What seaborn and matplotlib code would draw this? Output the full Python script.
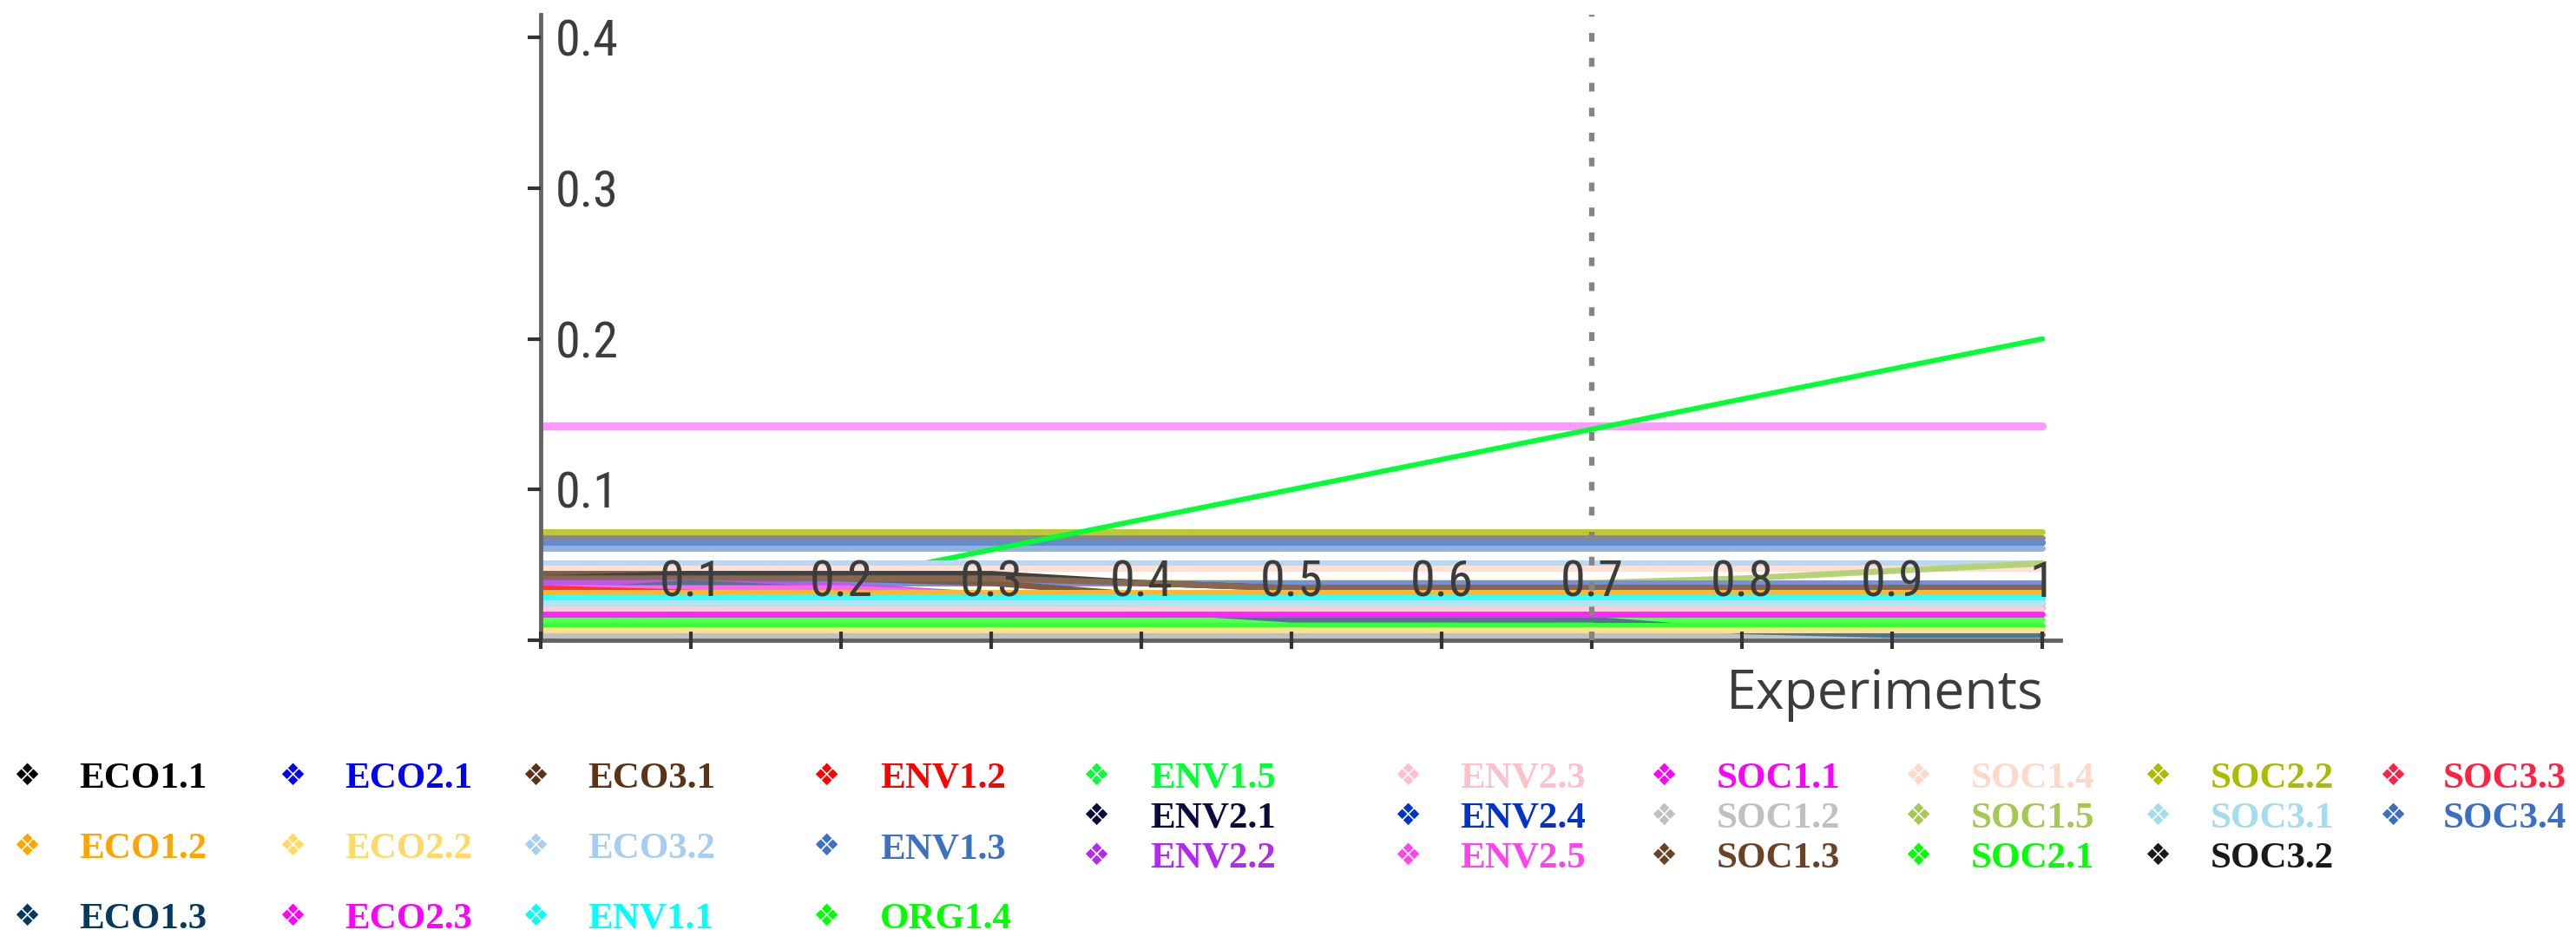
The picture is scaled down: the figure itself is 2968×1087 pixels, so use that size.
import matplotlib
matplotlib.use("Agg")
import matplotlib.pyplot as plt
import matplotlib.colors as mcolors
import seaborn as sns

# experiments on the x axis and the highlighted experiment
x_exp = [0.0, 0.1, 0.2, 0.3, 0.4, 0.5, 0.6, 0.7, 0.8, 0.9, 1.0]
marker_x = 0.7

eco1_1 = [0.041, 0.044, 0.044, 0.044, 0.038, 0.0345, 0.0345, 0.0345, 0.0345, 0.0345, 0.0345]
eco1_2 = [0.0315, 0.0315, 0.0315, 0.0315, 0.0315, 0.0315, 0.0315, 0.0315, 0.0315, 0.0315, 0.0315]
eco1_3 = [0.0315, 0.038, 0.033, 0.027, 0.020, 0.0137, 0.0137, 0.0137, 0.006, 0.0035, 0.0035]
eco2_1 = [0.0247, 0.0247, 0.0247, 0.0247, 0.0247, 0.0247, 0.0247, 0.0247, 0.0247, 0.0247, 0.0247]
eco2_2 = [0.007, 0.007, 0.007, 0.007, 0.007, 0.007, 0.007, 0.007, 0.007, 0.007, 0.007]
eco2_3 = [0.017, 0.017, 0.017, 0.017, 0.017, 0.017, 0.017, 0.017, 0.017, 0.017, 0.017]
eco3_1 = [0.044, 0.044, 0.041, 0.038, 0.030, 0.025, 0.021, 0.021, 0.021, 0.021, 0.021]
eco3_2 = [0.051, 0.051, 0.051, 0.051, 0.051, 0.051, 0.051, 0.051, 0.051, 0.051, 0.051]
env1_1 = [0.028, 0.028, 0.028, 0.028, 0.028, 0.028, 0.028, 0.028, 0.028, 0.028, 0.028]
env1_2 = [0.0345, 0.0315, 0.028, 0.028, 0.028, 0.028, 0.028, 0.028, 0.028, 0.028, 0.028]
env1_3 = [0.061, 0.061, 0.061, 0.061, 0.061, 0.061, 0.061, 0.061, 0.061, 0.061, 0.061]
org1_4 = [0.0137, 0.0137, 0.0137, 0.0137, 0.0137, 0.0137, 0.0137, 0.0137, 0.0137, 0.0137, 0.0137]
env1_5 = [0.0, 0.02, 0.04, 0.06, 0.08, 0.10, 0.12, 0.14, 0.16, 0.18, 0.20]
env2_1 = [0.068, 0.068, 0.068, 0.068, 0.068, 0.068, 0.068, 0.068, 0.068, 0.068, 0.068]
env2_2 = [0.038, 0.038, 0.036, 0.030, 0.022, 0.0137, 0.0137, 0.008, 0.007, 0.007, 0.007]
env2_3 = [0.021, 0.021, 0.021, 0.021, 0.021, 0.021, 0.021, 0.021, 0.021, 0.021, 0.021]
env2_4 = [0.038, 0.038, 0.038, 0.038, 0.038, 0.038, 0.038, 0.038, 0.038, 0.038, 0.038]
env2_5 = [0.0345, 0.0345, 0.0345, 0.030, 0.0247, 0.021, 0.021, 0.021, 0.021, 0.021, 0.021]
soc1_1 = [0.142, 0.142, 0.142, 0.142, 0.142, 0.142, 0.142, 0.142, 0.142, 0.142, 0.142]
soc1_2 = [0.0035, 0.0035, 0.0035, 0.0035, 0.0035, 0.0035, 0.0035, 0.0035, 0.0035, 0.0035, 0.0035]
soc1_3 = [0.041, 0.041, 0.041, 0.041, 0.038, 0.0345, 0.0345, 0.0345, 0.0345, 0.0345, 0.0345]
soc1_4 = [0.048, 0.048, 0.048, 0.048, 0.048, 0.048, 0.048, 0.048, 0.048, 0.048, 0.048]
soc1_5 = [0.038, 0.038, 0.038, 0.038, 0.038, 0.038, 0.038, 0.038, 0.041, 0.046, 0.051]
soc2_1 = [0.010, 0.010, 0.010, 0.010, 0.010, 0.010, 0.010, 0.010, 0.010, 0.010, 0.010]
soc2_2 = [0.072, 0.072, 0.072, 0.072, 0.072, 0.072, 0.072, 0.072, 0.072, 0.072, 0.072]
soc3_1 = [0.0247, 0.0247, 0.0247, 0.0247, 0.0247, 0.0247, 0.0247, 0.0247, 0.0247, 0.0247, 0.0247]
soc3_2 = [0.065, 0.065, 0.065, 0.065, 0.065, 0.065, 0.065, 0.065, 0.065, 0.065, 0.065]
soc3_3 = [0.028, 0.028, 0.028, 0.028, 0.028, 0.028, 0.028, 0.028, 0.028, 0.028, 0.028]
soc3_4 = [0.065, 0.065, 0.065, 0.065, 0.065, 0.065, 0.065, 0.065, 0.065, 0.065, 0.065]

# legend order (column by column, three per column)
names = ["ECO1.1", "ECO1.2", "ECO1.3", "ECO2.1", "ECO2.2", "ECO2.3",
         "ECO3.1", "ECO3.2", "ENV1.1", "ENV1.2", "ENV1.3", "ORG1.4",
         "ENV1.5", "ENV2.1", "ENV2.2", "ENV2.3", "ENV2.4", "ENV2.5",
         "SOC1.1", "SOC1.2", "SOC1.3", "SOC1.4", "SOC1.5", "SOC2.1",
         "SOC2.2", "SOC3.1", "SOC3.2", "SOC3.3", "SOC3.4"]

x_tick_labels = ["", "0.1", "0.2", "0.3", "0.4", "0.5", "0.6", "0.7", "0.8", "0.9", "1"]
y_ticks = [0.0, 0.1, 0.2, 0.3, 0.4]
y_tick_labels = ["", "0.1", "0.2", "0.3", "0.4"]
x_label = "Experiments"

values = {
    "ECO1.1": eco1_1, "ECO1.2": eco1_2, "ECO1.3": eco1_3, "ECO2.1": eco2_1,
    "ECO2.2": eco2_2, "ECO2.3": eco2_3, "ECO3.1": eco3_1, "ECO3.2": eco3_2,
    "ENV1.1": env1_1, "ENV1.2": env1_2, "ENV1.3": env1_3, "ORG1.4": org1_4,
    "ENV1.5": env1_5, "ENV2.1": env2_1, "ENV2.2": env2_2, "ENV2.3": env2_3,
    "ENV2.4": env2_4, "ENV2.5": env2_5, "SOC1.1": soc1_1, "SOC1.2": soc1_2,
    "SOC1.3": soc1_3, "SOC1.4": soc1_4, "SOC1.5": soc1_5, "SOC2.1": soc2_1,
    "SOC2.2": soc2_2, "SOC3.1": soc3_1, "SOC3.2": soc3_2, "SOC3.3": soc3_3,
    "SOC3.4": soc3_4,
}

colors = {
    "ECO1.1": "#000000", "ECO1.2": "#FFA500", "ECO1.3": "#053A5E", "ECO2.1": "#0000FF",
    "ECO2.2": "#FFD966", "ECO2.3": "#FF00FF", "ECO3.1": "#5C3317", "ECO3.2": "#A6CEF0",
    "ENV1.1": "#00FFFF", "ENV1.2": "#FF0000", "ENV1.3": "#3A72C4", "ORG1.4": "#00FF00",
    "ENV1.5": "#00FF33", "ENV2.1": "#0A0A3C", "ENV2.2": "#B22AF0", "ENV2.3": "#FFC0CB",
    "ENV2.4": "#0033CC", "ENV2.5": "#FF44EE", "SOC1.1": "#FF00FF", "SOC1.2": "#C0C0C0",
    "SOC1.3": "#6B4226", "SOC1.4": "#FFD8C8", "SOC1.5": "#A3C853", "SOC2.1": "#00FF00",
    "SOC2.2": "#AABB00", "SOC3.1": "#A3DCEC", "SOC3.2": "#1A1A1A", "SOC3.3": "#FF2244",
    "SOC3.4": "#3A6FC4",
}

# lines are drawn faded, bottom to top in this order
fade = {"SOC1.1": 0.6, "ENV1.5": 0.0, "SOC1.2": 0.0, "ENV2.1": 0.5, "ECO2.3": 0.15,
        "ENV1.3": 0.45, "ORG1.4": 0.35, "ENV2.4": 0.45, "ECO1.1": 0.25, "ECO1.3": 0.3}
draw_order = ["SOC1.1", "SOC3.2", "ENV1.3", "SOC3.4", "ENV2.1", "SOC2.2", "ENV1.5",
              "ECO2.1", "SOC3.3", "ECO3.2", "SOC1.4", "SOC1.5", "ENV2.4",
              "ECO3.1", "ECO1.1", "SOC1.3", "ENV2.2", "SOC1.2", "ORG1.4", "ECO1.3",
              "ENV2.5", "ENV1.2", "ECO1.2", "ENV1.1", "SOC3.1", "ENV2.3", "ECO2.3",
              "SOC2.1", "ECO2.2"]


def faded(c, f):
    r, g, b = mcolors.to_rgb(c)
    return (r + (1 - r) * f, g + (1 - g) * f, b + (1 - b) * f)


sns.set_theme(style="white")
plt.rcParams["font.family"] = ["Open Sans", "DejaVu Sans"]

W, H = 2968, 1087
fig = plt.figure(figsize=(W / 100, H / 100), dpi=100)
ax = fig.add_axes([623 / W, (H - 738) / H, 1751 / W, 721 / H])

for name in draw_order:
    lw = 5.0
    if name == "SOC1.1":
        lw = 6.8
    if name == "ENV1.5":
        lw = 4.2
    sns.lineplot(x=x_exp, y=values[name], ax=ax, color=faded(colors[name], fade.get(name, 0.2)),
                 lw=lw, estimator=None, sort=False)

ax.axvline(marker_x, color="#858585", lw=4.5, ls=(0, (1.6, 3.0)), zorder=2.6)

ax.set_xlim(0, 1.012)
ax.set_ylim(0, 0.415)
ax.set_xticks(x_exp)
ax.set_xticklabels(x_tick_labels)
ax.set_yticks(y_ticks)
ax.set_yticklabels(y_tick_labels)
ax.set_xlabel("")
ax.set_ylabel("")
ax.set_axisbelow(False)

for s in ["top", "right"]:
    ax.spines[s].set_visible(False)
for s in ["left", "bottom"]:
    ax.spines[s].set_color("#646464")
    ax.spines[s].set_linewidth(3.5)

tick_font = ["Roboto Condensed", "Liberation Sans Narrow", "Open Sans"]
ax.tick_params(axis="x", direction="inout", length=14, width=3, color="#333333",
               pad=-54.5, labelsize=42, labelcolor="#3c3c3c", bottom=True)
ax.tick_params(axis="y", direction="out", length=11, width=3, color="#333333",
               pad=-23, labelsize=42, labelcolor="#3c3c3c", left=True)
for lbl in ax.get_xticklabels():
    lbl.set_verticalalignment("center")
    lbl.set_family(tick_font)
for lbl in ax.get_yticklabels():
    lbl.set_horizontalalignment("left")
    lbl.set_family(tick_font)

fig.text(2355 / W, 1 - 817 / H, x_label, ha="right", va="baseline",
         fontsize=45, color="#3c3c3c", family=["Open Sans", "DejaVu Sans"])

# legend: four columns of wide rows, then six columns of tight rows
col_marker = [31, 337, 617, 952, 1263, 1622, 1917, 2210, 2486, 2757]
col_text = [91, 397, 677, 1014, 1325, 1682, 1978, 2271, 2547, 2815]
for i, name in enumerate(names):
    col, row = i // 3, i % 3
    step = 81 if col < 4 else 46
    yc = 893 + row * step
    fig.text(col_marker[col] / W, 1 - (yc + 12) / H, "\u2756", ha="center", va="baseline",
             fontsize=25, color=colors[name], family=["DejaVu Sans"])
    fig.text(col_text[col] / W, 1 - (yc + 15) / H, name, ha="left", va="baseline",
             fontsize=31, fontweight="bold", color=colors[name],
             family=["Liberation Serif", "DejaVu Serif"])

fig.savefig("out.png", dpi=100)
